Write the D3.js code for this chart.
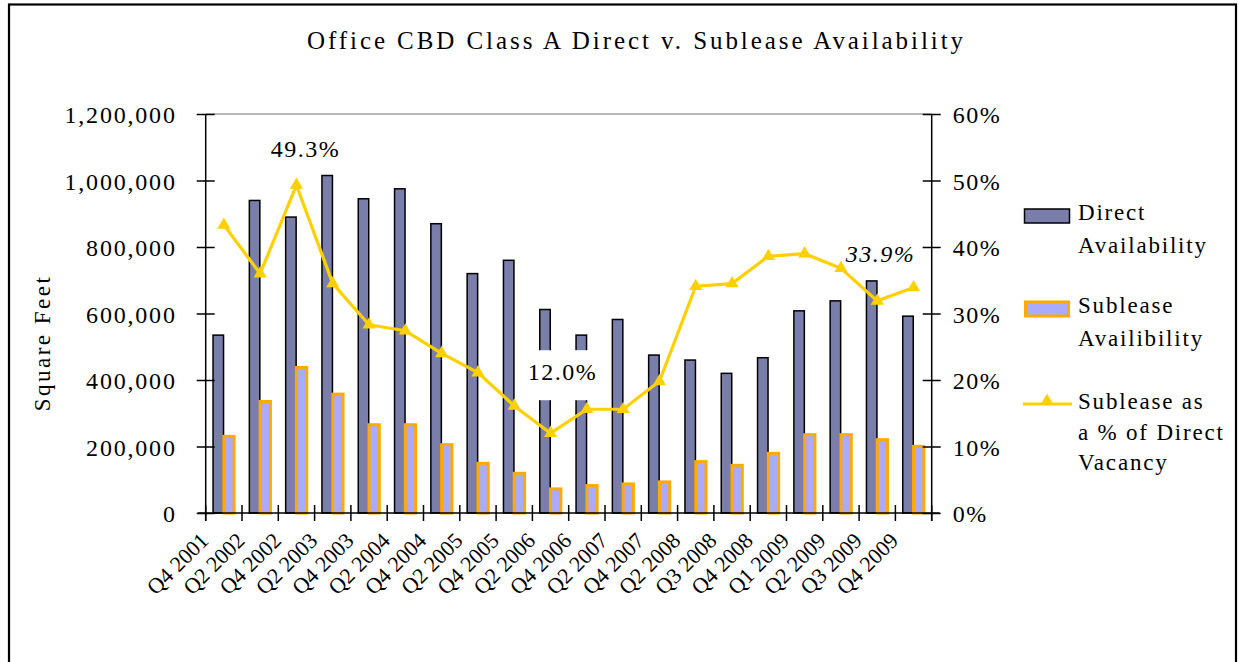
<!DOCTYPE html>
<html>
<head>
<meta charset="utf-8">
<script src="https://cdn.jsdelivr.net/npm/d3@7"></script>
<style>
  html, body { margin: 0; padding: 0; background: #fff; }
  svg { display: block; }
  text { font-family: "Liberation Serif", "DejaVu Serif", serif; fill: #000; }
</style>
</head>
<body>
<svg id="chart" width="1241" height="662"></svg>
<script>
const categories = ["Q4 2001","Q2 2002","Q4 2002","Q2 2003","Q4 2003","Q2 2004","Q4 2004","Q2 2005","Q4 2005","Q2 2006","Q4 2006","Q2 2007","Q4 2007","Q2 2008","Q3 2008","Q4 2008","Q1 2009","Q2 2009","Q3 2009","Q4 2009"];
const directAvailability = [535000, 940000, 890000, 1015000, 945000, 975000, 870000, 720000, 760000, 612000, 535000, 582000, 475000, 460000, 420000, 467000, 608000, 638000, 698000, 592000];
const subleaseAvailability = [235000, 340000, 442000, 362000, 270000, 270000, 210000, 154000, 124000, 77000, 87000, 92000, 98000, 159000, 148000, 184000, 240000, 240000, 225000, 205000];
const subleasePct = [43.3, 36.0, 49.3, 34.5, 28.3, 27.4, 24.0, 21.1, 16.1, 12.0, 15.6, 15.6, 19.8, 34.1, 34.5, 38.6, 39.0, 36.8, 31.9, 33.9];
const leftTicks = [0, 200000, 400000, 600000, 800000, 1000000, 1200000];
const rightTicks = [0, 10, 20, 30, 40, 50, 60];
const pointLabels = [{i: 2, text: "49.3%"}, {i: 9, text: "12.0%"}, {i: 19, text: "33.9%"}];
const legendItems = [["Direct", "Availability"], ["Sublease", "Availibility"], ["Sublease as", "a % of Direct", "Vacancy"]];
const titleText = "Office CBD Class A Direct v. Sublease Availability";

const svg = d3.select("#chart");
const L = 205.7, R = 931.7, T = 114, B = 513;

// frame
svg.append("rect").attr("x", 9).attr("y", 4.5).attr("width", 1227).attr("height", 700)
  .attr("fill", "none").attr("stroke", "#000").attr("stroke-width", 2.2);

// title
svg.append("text").attr("x", 635).attr("y", 49).attr("text-anchor", "middle")
  .attr("font-size", 25).attr("textLength", 656).attr("lengthAdjust", "spacing")
  .text(titleText);

const x = d3.scaleBand().domain(categories).range([L, R]).paddingInner(0).paddingOuter(0);
const yL = d3.scaleLinear().domain([0, 1200000]).range([B, T]);
const yR = d3.scaleLinear().domain([0, 60]).range([B, T]);
const bw = x.bandwidth();

// top gridline
svg.append("line").attr("x1", L).attr("x2", R).attr("y1", yL(1200000)).attr("y2", yL(1200000))
  .attr("stroke", "#a0a0a0").attr("stroke-width", 1.3);

// bars: direct
svg.append("g").selectAll("rect").data(categories).join("rect")
  .attr("x", d => x(d) + bw * 0.2025)
  .attr("width", bw * 0.289)
  .attr("y", (d, i) => yL(directAvailability[i]))
  .attr("height", (d, i) => B - yL(directAvailability[i]))
  .attr("fill", "#7a7eab").attr("stroke", "#000").attr("stroke-width", 1.5);

// bars: sublease
svg.append("g").selectAll("rect").data(categories).join("rect")
  .attr("x", d => x(d) + bw * 0.499)
  .attr("width", bw * 0.284)
  .attr("y", (d, i) => yL(subleaseAvailability[i]) + 1.5)
  .attr("height", (d, i) => B - yL(subleaseAvailability[i]) - 1.5)
  .attr("fill", "#aaaaff").attr("stroke", "#ffaa00").attr("stroke-width", 3);

// left axis
const axL = d3.axisLeft(yL).tickValues(leftTicks).tickFormat(d3.format(",")).tickSize(9).tickPadding(20);
const gL = svg.append("g").attr("transform", `translate(${L},0)`).call(axL);
gL.select(".domain").remove();
gL.selectAll(".tick line").attr("x1", -9).attr("x2", 9).attr("stroke", "#000").attr("stroke-width", 1.5);
gL.append("line").attr("x1", 0).attr("x2", 0).attr("y1", T).attr("y2", B + 8).attr("stroke", "#000").attr("stroke-width", 1.5);
gL.selectAll(".tick text").attr("font-size", 24).attr("letter-spacing", 1.8)
  .attr("font-family", "Liberation Serif").attr("fill", "#000").attr("dy", "0.36em").attr("x", -29);

// right axis
const axR = d3.axisRight(yR).tickValues(rightTicks).tickFormat(d => d + "%").tickSize(9).tickPadding(20);
const gR = svg.append("g").attr("transform", `translate(${R},0)`).call(axR);
gR.select(".domain").remove();
gR.selectAll(".tick line").attr("x1", -9).attr("x2", 9).attr("stroke", "#000").attr("stroke-width", 1.5);
gR.append("line").attr("x1", 0).attr("x2", 0).attr("y1", T).attr("y2", B + 8).attr("stroke", "#000").attr("stroke-width", 1.5);
gR.selectAll(".tick text").attr("font-size", 24).attr("letter-spacing", 1.5)
  .attr("font-family", "Liberation Serif").attr("fill", "#000").attr("dy", "0.36em").attr("x", 21);

// bottom axis
const gB = svg.append("g").attr("transform", `translate(0,${B})`);
gB.append("line").attr("x1", L - 8).attr("x2", R + 8).attr("y1", 0).attr("y2", 0).attr("stroke", "#000").attr("stroke-width", 1.5);
const boundaries = categories.map(c => x(c)).concat([R]);
gB.selectAll("line.tk").data(boundaries).join("line").attr("class", "tk")
  .attr("x1", d => d).attr("x2", d => d).attr("y1", -8).attr("y2", 8)
  .attr("stroke", "#000").attr("stroke-width", 1.5);
gB.selectAll("text").data(categories).join("text")
  .attr("transform", d => `translate(${x(d) + bw / 2 - 14},${29}) rotate(-45)`)
  .attr("text-anchor", "end").attr("font-size", 22).attr("letter-spacing", 0)
  .text(d => d);

// y title
svg.append("text").attr("transform", "translate(50,343) rotate(-90)").attr("text-anchor", "middle")
  .attr("font-size", 23).attr("letter-spacing", 2.5).text("Square Feet");

// line
const line = d3.line().x((d, i) => x(categories[i]) + bw / 2).y(d => yR(d));
svg.append("path").datum(subleasePct).attr("d", line).attr("fill", "none")
  .attr("stroke", "#ffd000").attr("stroke-width", 3.2).attr("stroke-linejoin", "miter");
const tri = d3.symbol().type(d3.symbolTriangle).size(75);
svg.append("g").selectAll("path").data(subleasePct).join("path")
  .attr("d", tri)
  .attr("transform", (d, i) => `translate(${x(categories[i]) + bw / 2},${yR(d)})`)
  .attr("fill", "#ffd000");

// data labels
const lblPos = {2: [9, -28], 9: [12, -53], 19: [-33, -26]};
pointLabels.forEach(p => {
  const cx = x(categories[p.i]) + bw / 2 + lblPos[p.i][0];
  const cy = yR(subleasePct[p.i]) + lblPos[p.i][1];
  if (p.i === 9) {
    svg.append("rect").attr("x", cx - 42).attr("y", cy - 30).attr("width", 84).attr("height", 50).attr("fill", "#fff");
  }
  svg.append("text").attr("x", cx).attr("y", cy).attr("text-anchor", "middle")
    .attr("font-size", 24).attr("letter-spacing", 1.5)
    .attr("font-style", p.i === 19 ? "italic" : "normal")
    .text(p.text);
});

// legend
const lg = svg.append("g");
legendItems.forEach((lines, k) => {
  if (k === 0) {
    lg.append("rect").attr("x", 1024.5).attr("y", 209).attr("width", 45).attr("height", 14)
      .attr("fill", "#7a7eab").attr("stroke", "#000").attr("stroke-width", 1.5);
  } else if (k === 1) {
    lg.append("rect").attr("x", 1025.5).attr("y", 302).attr("width", 43).attr("height", 14)
      .attr("fill", "#aaaaff").attr("stroke", "#ffaa00").attr("stroke-width", 3);
  } else {
    lg.append("line").attr("x1", 1023).attr("x2", 1072).attr("y1", 404).attr("y2", 404)
      .attr("stroke", "#ffd000").attr("stroke-width", 3);
    lg.append("path").attr("d", tri).attr("transform", "translate(1047,401)").attr("fill", "#ffd000");
  }
  const base = [220, 313, 409][k];
  lines.forEach((t, j) => {
    lg.append("text").attr("x", 1078).attr("y", base + j * (k === 2 ? 30.5 : 32.5))
      .attr("font-size", 23).attr("letter-spacing", 1.8).text(t);
  });
});
</script>
</body>
</html>
